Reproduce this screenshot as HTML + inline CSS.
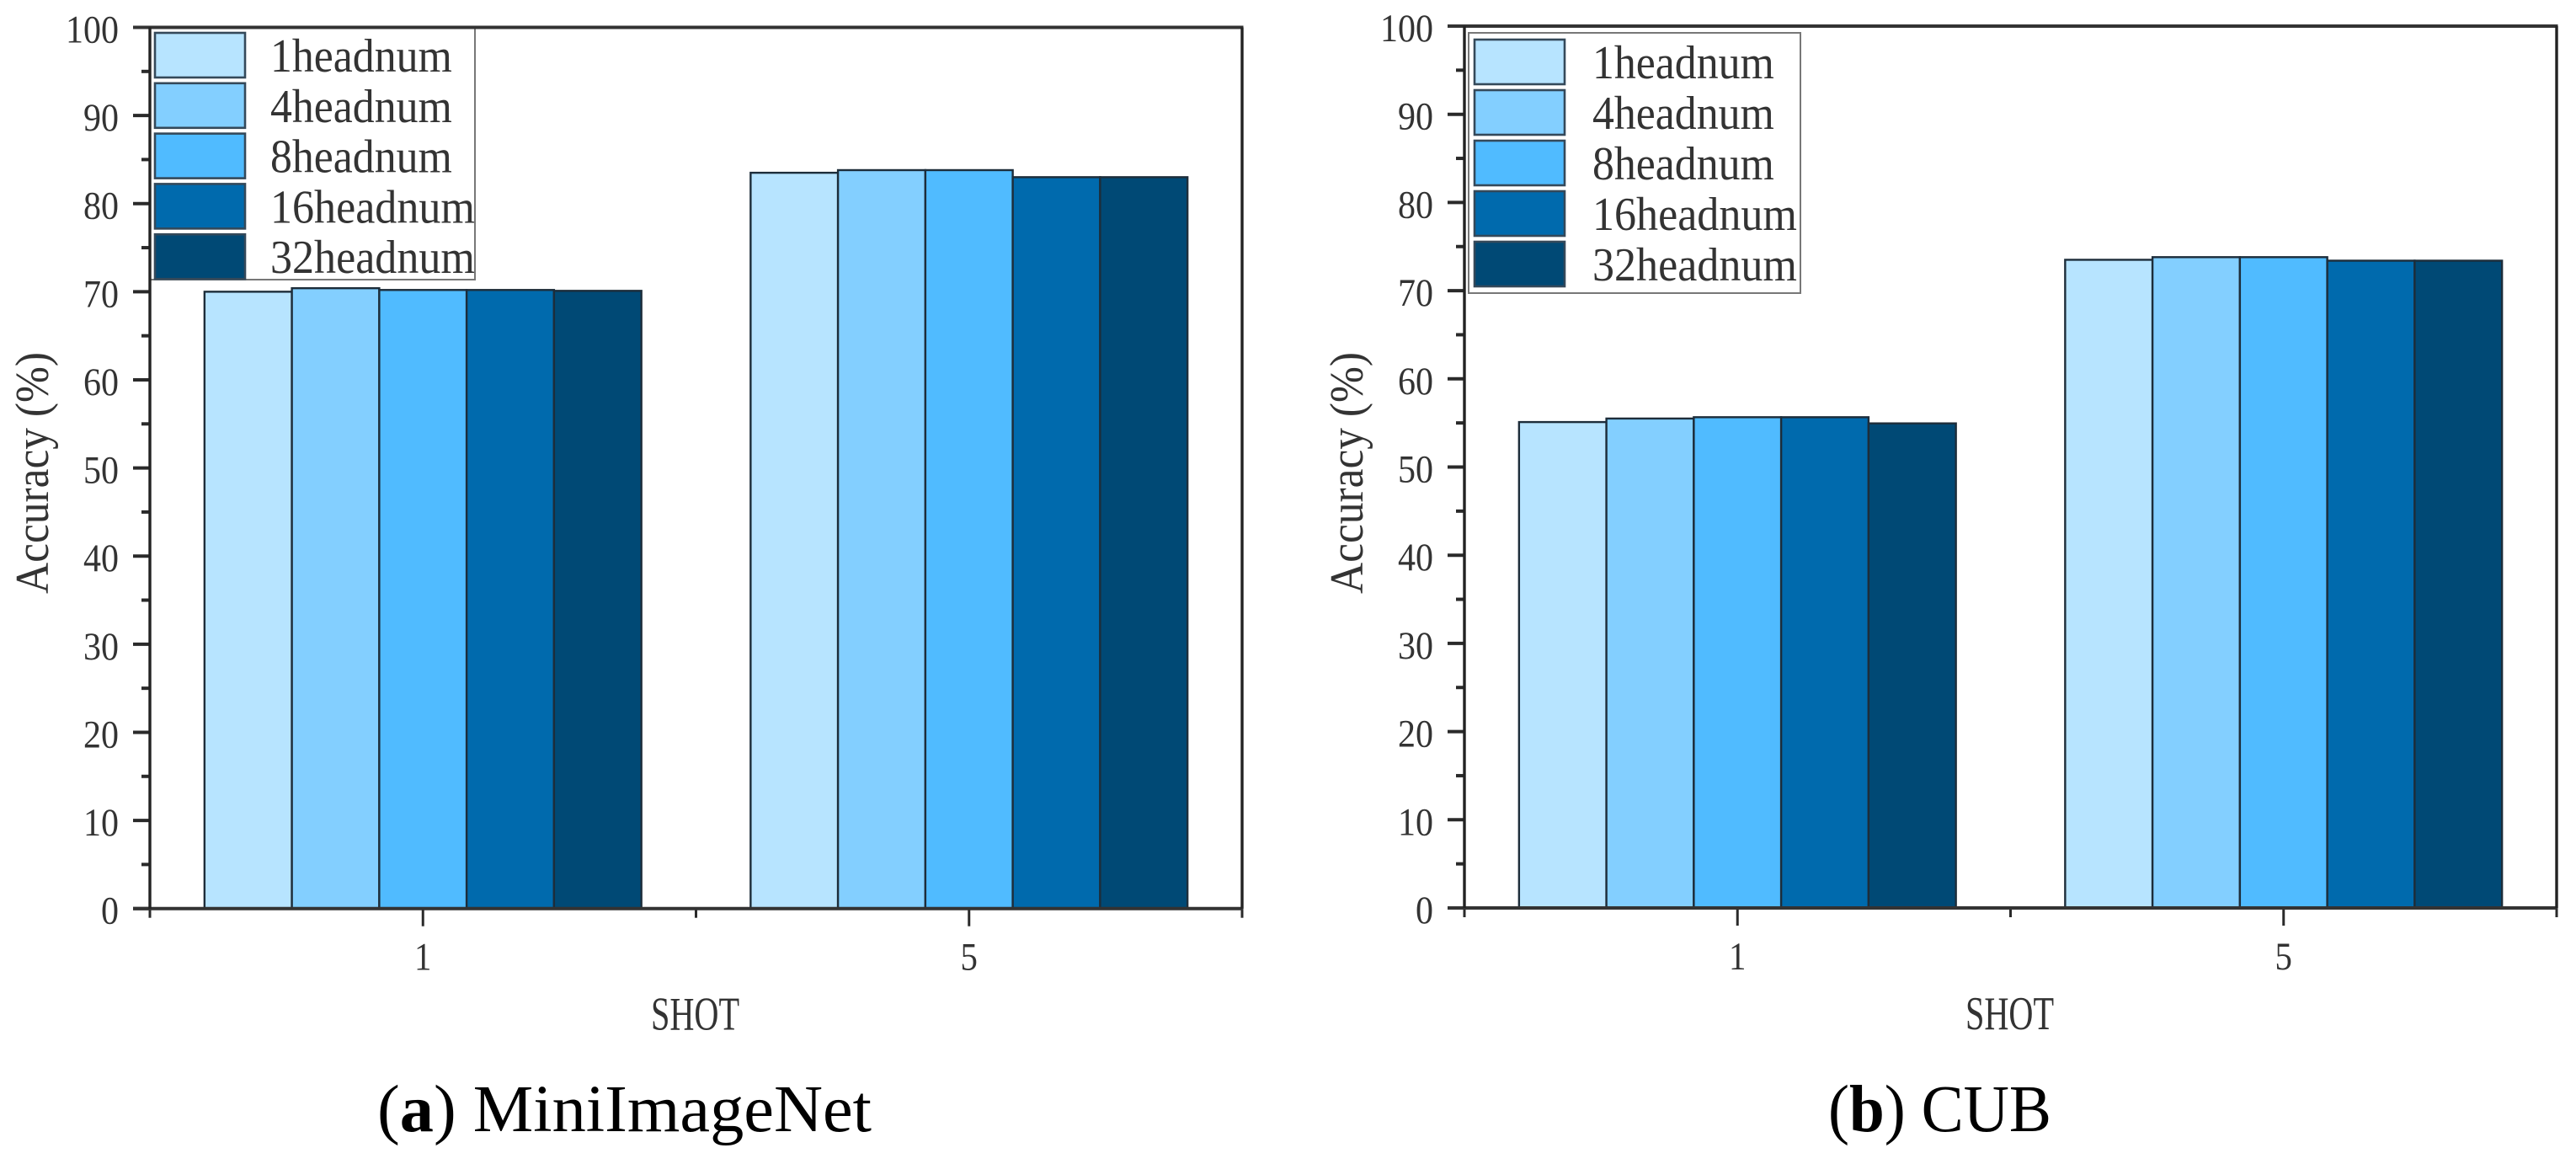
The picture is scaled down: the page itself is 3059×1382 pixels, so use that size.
<!DOCTYPE html>
<html lang="en">
<head>
<meta charset="utf-8">
<title>Accuracy by SHOT and headnum: MiniImageNet and CUB</title>
<style>
html,body{margin:0;padding:0;background:#fff;width:3059px;height:1382px;overflow:hidden}
svg{display:block}
text{font-family:"Liberation Serif",serif}
</style>
</head>
<body>
<svg id="figure" xmlns="http://www.w3.org/2000/svg" width="3059" height="1382" viewBox="0 0 3059 1382">
<rect x="0" y="0" width="3059" height="1382" fill="#ffffff"/>
<text x="448" y="1343" font-size="79" fill="#000" textLength="587" lengthAdjust="spacingAndGlyphs">(<tspan font-weight="bold">a</tspan>) MiniImageNet</text>
<text x="2171" y="1343" font-size="79" fill="#000" textLength="265" lengthAdjust="spacingAndGlyphs">(<tspan font-weight="bold">b</tspan>) CUB</text>
</svg>
<script>
const categories = ['1', '5'];
const seriesNames = ['1headnum', '4headnum', '8headnum', '16headnum', '32headnum'];
const seriesColors = ['#b7e4ff', '#83cfff', '#50bbff', '#006aad', '#004975'];
const yTickLabels = [0, 10, 20, 30, 40, 50, 60, 70, 80, 90, 100];
const yMinorTicks = [5, 15, 25, 35, 45, 55, 65, 75, 85, 95];
const miniHead1 = [70.0, 83.5];
const miniHead4 = [70.4, 83.8];
const miniHead8 = [70.2, 83.8];
const miniHead16 = [70.2, 83.0];
const miniHead32 = [70.1, 83.0];
const cubHead1 = [55.1, 73.5];
const cubHead4 = [55.5, 73.8];
const cubHead8 = [55.65, 73.8];
const cubHead16 = [55.65, 73.4];
const cubHead32 = [54.95, 73.4];

const NS = 'http://www.w3.org/2000/svg';
const svg = document.getElementById('figure');

function make(tag, attrs, parent) {
  const el = document.createElementNS(NS, tag);
  for (const k in attrs) el.setAttribute(k, attrs[k]);
  parent.appendChild(el);
  return el;
}

function drawPanel(p) {
  const g = make('g', {}, svg);
  
  

  const yScale = v => p.bottom - (p.bottom - p.top) * v / 100;
  const band = (p.right - p.left) / categories.length;
  const xScale = i => p.left + band * (i + 0.5);
  const barWidth = band * 0.16;

  // bars
  p.series.forEach((values, s) => {
    values.forEach((v, c) => {
      const x = xScale(c) + (s - seriesNames.length / 2) * barWidth;
      const y = yScale(v);
      const bar = make('rect', {x: x, y: y, width: barWidth, height: p.bottom - y, fill: seriesColors[s], stroke: '#1d2d3a', 'stroke-width': 2.4}, g);
      
      
    });
  });

  // legend
  const legendBox = make('rect', {x: p.legend.x, y: p.legend.y, width: p.legend.w, height: p.legend.h, fill: '#fff', stroke: '#777', 'stroke-width': 2}, g);
  
  
  seriesNames.forEach((name, s) => {
    const swatch = make('rect', {x: p.legend.swatchX, y: p.legend.swatchY + s * p.legend.step, width: 107, height: 53, fill: seriesColors[s], stroke: '#34495a', 'stroke-width': 2.6}, g);
    
    
    const label = make('text', {x: p.legend.textX, y: p.legend.textY + s * p.legend.step, 'font-size': 56, fill: '#333', textLength: name.length * 27.1 - 1, lengthAdjust: 'spacingAndGlyphs'}, g);
    label.textContent = name;
    
    
  });

  // y ticks
  yTickLabels.forEach(v => {
    const y = yScale(v);
    const tick = make('line', {x1: p.left - 20, x2: p.left, y1: y, y2: y, stroke: '#2a2a2a', 'stroke-width': 4}, g);
    
    
    const s = String(v);
    const lab = make('text', {x: p.left - 37 - s.length * 21, y: y + 18, 'font-size': 47, fill: '#333', textLength: s.length * 21, lengthAdjust: 'spacingAndGlyphs'}, g);
    lab.textContent = s;
    
    
  });
  yMinorTicks.forEach(v => {
    const y = yScale(v);
    const tick = make('line', {x1: p.left - 10, x2: p.left, y1: y, y2: y, stroke: '#2a2a2a', 'stroke-width': 4}, g);
    
    
  });

  // x ticks
  categories.forEach((c, i) => {
    const x = xScale(i);
    const tick = make('line', {x1: x, x2: x, y1: p.bottom, y2: p.bottom + 21, stroke: '#2a2a2a', 'stroke-width': 3}, g);
    
    
    const lab = make('text', {x: x, y: p.bottom + 73, 'font-size': 47, fill: '#333', 'text-anchor': 'middle', textLength: 20.4, lengthAdjust: 'spacingAndGlyphs'}, g);
    lab.textContent = c;
    
    
  });
  for (let i = 0; i <= categories.length; i++) {
    const x = p.left + band * i;
    const tick = make('line', {x1: x, x2: x, y1: p.bottom, y2: p.bottom + 11, stroke: '#2a2a2a', 'stroke-width': 3}, g);
    
    
  }

  // axis frame
  const frameTop = make('line', {x1: p.left - 20, x2: p.right + 1.5, y1: p.top, y2: p.top, stroke: '#333', 'stroke-width': 4}, g);
  
  
  const frameBottom = make('line', {x1: p.left - 20, x2: p.right + 1.5, y1: p.bottom, y2: p.bottom, stroke: '#333', 'stroke-width': 4}, g);
  
  
  const frameLeft = make('line', {x1: p.left, x2: p.left, y1: p.top, y2: p.bottom, stroke: '#222', 'stroke-width': 3.4}, g);
  
  
  const frameRight = make('line', {x1: p.right, x2: p.right, y1: p.top, y2: p.bottom, stroke: '#222', 'stroke-width': 3.4}, g);
  
  

  // axis titles
  const xTitle = make('text', {x: (p.left + p.right) / 2 - 1, y: p.bottom + 144, 'font-size': 56, fill: '#333', 'text-anchor': 'middle', textLength: 105, lengthAdjust: 'spacingAndGlyphs'}, g);
  xTitle.textContent = 'SHOT';
  
  
  const yTitle = make('text', {transform: 'translate(' + (p.left - 121) + ',705) rotate(-90)', x: 0, y: 0, 'font-size': 56, fill: '#333', textLength: 287, lengthAdjust: 'spacingAndGlyphs'}, g);
  yTitle.textContent = 'Accuracy (%)';
  
  
}

drawPanel({
  name: 'chart-miniimagenet', left: 178, right: 1475, top: 32.5, bottom: 1078.7,
  series: [miniHead1, miniHead4, miniHead8, miniHead16, miniHead32],
  legend: {x: 178, y: 32, w: 386, h: 300, swatchX: 184, swatchY: 39, step: 59.8, textX: 321, textY: 85}
});
drawPanel({
  name: 'chart-cub', left: 1739, right: 3036, top: 31, bottom: 1078,
  series: [cubHead1, cubHead4, cubHead8, cubHead16, cubHead32],
  legend: {x: 1744, y: 39, w: 394, h: 309, swatchX: 1751, swatchY: 47, step: 60, textX: 1891, textY: 93}
});
</script>
</body>
</html>
